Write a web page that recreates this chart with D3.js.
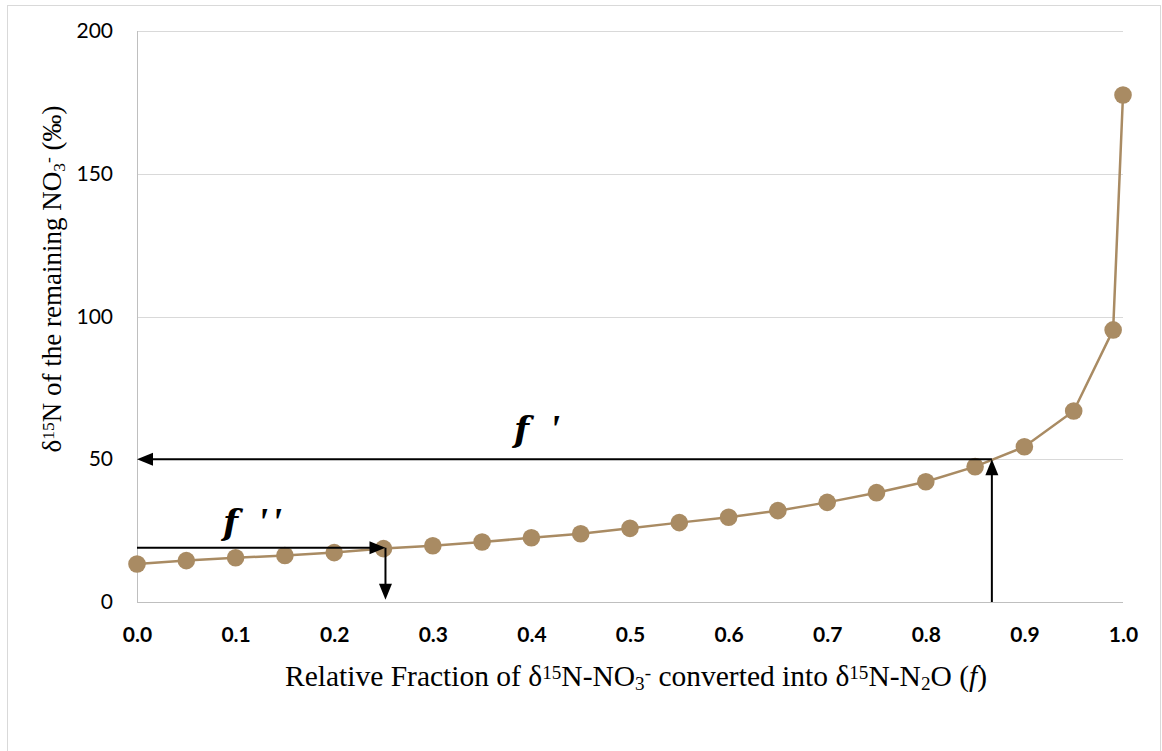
<!DOCTYPE html>
<html>
<head>
<meta charset="utf-8">
<script src="https://cdn.jsdelivr.net/npm/d3@7"></script>
<style>
  html, body { margin: 0; padding: 0; background: #fff; }
  svg { display: block; }
  .tick-y { font-family: Lato, "Open Sans", sans-serif; font-size: 21px; fill: #000; }
  .tick-x { font-family: Lato, "Open Sans", sans-serif; font-size: 21px; font-weight: bold; fill: #000; }
  .axis-title { font-family: "Liberation Serif", "Times New Roman", serif; font-size: 27px; fill: #000; }
  .axis-title.x-title { font-size: 29.5px; }
  .annot { font-family: "DejaVu Serif", "Liberation Serif", serif; font-size: 35px; font-weight: bold; font-style: italic; fill: #000; }
  .annot .prime { font-family: "Liberation Serif", "Times New Roman", serif; font-size: 40px; }
</style>
</head>
<body>
<svg id="chart" width="1162" height="751"></svg>
<script>
// Rayleigh-type enrichment of the remaining nitrate pool
const fraction = [0, 0.05, 0.1, 0.15, 0.2, 0.25, 0.3, 0.35, 0.4, 0.45, 0.5,
                  0.55, 0.6, 0.65, 0.7, 0.75, 0.8, 0.85, 0.9, 0.95, 0.99, 1.0];
const d15N = [13.3, 14.5, 15.5, 16.3, 17.3, 18.7, 19.7, 21.0, 22.5, 23.9, 25.8,
              27.8, 29.7, 32.0, 34.9, 38.3, 42.1, 47.4, 54.4, 66.9, 95.3, 177.6];

const xTicks = [0, 0.1, 0.2, 0.3, 0.4, 0.5, 0.6, 0.7, 0.8, 0.9, 1.0];
const yTicks = [0, 50, 100, 150, 200];

// read-off guides: f' at 50 ‰ and f'' at 19 ‰
const fPrime = 0.867, fPrimeLevel = 50;
const fDouble = 0.252, fDoubleLevel = 19.0;

const svg = d3.select("#chart");
const plotL = 137, plotR = 1123, plotT = 31, plotB = 602;

const x = d3.scaleLinear().domain([0, 1]).range([plotL, plotR]);
const y = d3.scaleLinear().domain([0, 200]).range([plotB, plotT]);

// outer chart border
svg.append("rect")
  .attr("x", 7.5).attr("y", 5.5).attr("width", 1153).attr("height", 760)
  .attr("fill", "none").attr("stroke", "#d9d9d9").attr("stroke-width", 1);

// horizontal gridlines
svg.append("g").selectAll("line").data(yTicks.filter(v => v > 0)).join("line")
  .attr("x1", plotL).attr("x2", plotR)
  .attr("y1", d => Math.round(y(d)) + 0.5).attr("y2", d => Math.round(y(d)) + 0.5)
  .attr("stroke", "#d9d9d9").attr("stroke-width", 1);

// axis lines
svg.append("line").attr("x1", plotL + 0.5).attr("x2", plotL + 0.5)
  .attr("y1", plotT).attr("y2", plotB).attr("stroke", "#bfbfbf");
svg.append("line").attr("x1", plotL).attr("x2", plotR)
  .attr("y1", plotB + 0.5).attr("y2", plotB + 0.5).attr("stroke", "#bfbfbf");

// y tick labels
const yAxis = d3.axisLeft(y).tickValues(yTicks).tickSize(0).tickPadding(24);
const gy = svg.append("g").attr("transform", `translate(${plotL},0)`).call(yAxis);
gy.select(".domain").remove();
gy.attr("font-family", null).attr("font-size", null);
gy.selectAll("text").attr("class", "tick-y");

// x tick labels
const xAxis = d3.axisBottom(x).tickValues(xTicks).tickFormat(d3.format(".1f")).tickSize(0).tickPadding(25);
const gx = svg.append("g").attr("transform", `translate(0,${plotB})`).call(xAxis);
gx.select(".domain").remove();
gx.attr("font-family", null).attr("font-size", null);
gx.selectAll("text").attr("class", "tick-x");

// y axis title
const yt = svg.append("text").attr("class", "axis-title")
  .attr("transform", "translate(61,279) rotate(-90)")
  .attr("text-anchor", "middle");
yt.append("tspan").text("δ");
yt.append("tspan").attr("baseline-shift", "38%").attr("font-size", "65%").text("15");
yt.append("tspan").text("N of the remaining NO");
yt.append("tspan").attr("baseline-shift", "-22%").attr("font-size", "65%").text("3");
yt.append("tspan").attr("baseline-shift", "38%").attr("font-size", "65%").text("-");
yt.append("tspan").text(" (‰)");

// x axis title
const xt = svg.append("text").attr("class", "axis-title x-title")
  .attr("x", 636).attr("y", 686).attr("text-anchor", "middle");
xt.append("tspan").text("Relative Fraction of δ");
xt.append("tspan").attr("baseline-shift", "38%").attr("font-size", "65%").text("15");
xt.append("tspan").text("N-NO");
xt.append("tspan").attr("baseline-shift", "-22%").attr("font-size", "65%").text("3");
xt.append("tspan").attr("baseline-shift", "38%").attr("font-size", "65%").text("-");
xt.append("tspan").text(" converted into δ");
xt.append("tspan").attr("baseline-shift", "38%").attr("font-size", "65%").text("15");
xt.append("tspan").text("N-N");
xt.append("tspan").attr("baseline-shift", "-22%").attr("font-size", "65%").text("2");
xt.append("tspan").text("O (");
xt.append("tspan").attr("font-style", "italic").text("f");
xt.append("tspan").text(")");

// data series
const pts = fraction.map((f, i) => [f, d15N[i]]);
const line = d3.line().x(d => x(d[0])).y(d => y(d[1]));
svg.append("path").datum(pts)
  .attr("d", line).attr("fill", "none")
  .attr("stroke", "#a98b63").attr("stroke-width", 2.5);
svg.append("g").selectAll("circle").data(pts).join("circle")
  .attr("cx", d => x(d[0])).attr("cy", d => y(d[1])).attr("r", 8.8)
  .attr("fill", "#a98b63");

// arrows: shaft plus filled triangular head at the (x2,y2) end
function arrow(x1, y1, x2, y2) {
  const len = 16, half = 6.5;
  const dx = x2 - x1, dy = y2 - y1, L = Math.hypot(dx, dy);
  const ux = dx / L, uy = dy / L;
  const bx = x2 - ux * len, by = y2 - uy * len;
  svg.append("line")
    .attr("x1", x1).attr("y1", y1).attr("x2", bx + ux).attr("y2", by + uy)
    .attr("stroke", "#000").attr("stroke-width", 2);
  svg.append("path")
    .attr("d", `M${x2},${y2}L${bx - uy * half},${by + ux * half}L${bx + uy * half},${by - ux * half}Z`)
    .attr("fill", "#000");
}

arrow(x(fPrime), y(0), x(fPrime), y(fPrimeLevel));
arrow(x(fPrime), y(fPrimeLevel), x(0), y(fPrimeLevel));
arrow(x(0), y(fDoubleLevel), x(fDouble), y(fDoubleLevel));
arrow(x(fDouble), y(fDoubleLevel), x(fDouble), y(0.8));

// arrow labels: italic f followed by slanted prime marks
const a1 = svg.append("text").attr("class", "annot").attr("y", 442);
a1.append("tspan").attr("x", 514).text("f");
a1.append("tspan").attr("class", "prime").attr("x", 549).text("'");
const a2 = svg.append("text").attr("class", "annot").attr("y", 535);
a2.append("tspan").attr("x", 223).text("f");
a2.append("tspan").attr("class", "prime").attr("x", 257).attr("letter-spacing", 3).text("''");
</script>
</body>
</html>
